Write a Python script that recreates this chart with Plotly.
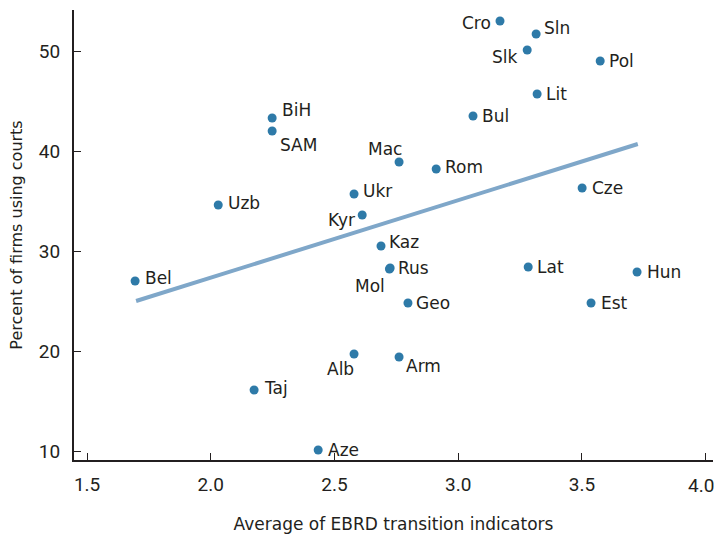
import plotly.graph_objects as go

countries = ["Bel", "Uzb", "BiH", "SAM", "Taj", "Aze", "Alb", "Ukr", "Kyr", "Kaz",
             "Rus", "Mol", "Geo", "Arm", "Mac", "Rom", "Bul", "Cro", "Sln", "Slk",
             "Pol", "Lit", "Cze", "Lat", "Hun", "Est"]
ebrd = [1.694, 2.030, 2.248, 2.248, 2.175, 2.434, 2.579, 2.579, 2.612, 2.688,
        2.725, 2.722, 2.797, 2.761, 2.761, 2.911, 3.060, 3.169, 3.315, 3.279,
        3.574, 3.319, 3.501, 3.283, 3.723, 3.537]
courts = [27.0, 34.6, 43.3, 42.0, 16.1, 10.1, 19.7, 35.7, 33.6, 30.5,
          28.3, 28.2, 24.8, 19.4, 38.9, 38.2, 43.5, 53.0, 51.7, 50.1,
          49.0, 45.7, 36.3, 28.4, 27.9, 24.8]

# label placement style: (anchor side, x gap px, y offset px)
label_style = {
    "Bel": ("left", 9, -3), "Uzb": ("left", 9, -2), "BiH": ("left", 9, -8),
    "SAM": ("left", 7, 14), "Taj": ("left", 9, -2), "Aze": ("left", 9, 0),
    "Alb": ("right", -1, 15), "Ukr": ("left", 8, -3), "Kyr": ("right", 6, 5),
    "Kaz": ("left", 7, -4), "Rus": ("left", 7, 0), "Mol": ("right", 3, 17),
    "Geo": ("left", 7, 0), "Arm": ("left", 6, 9), "Mac": ("right", -4, -13),
    "Rom": ("left", 8, -2), "Bul": ("left", 8, 0), "Cro": ("right", 8, 2),
    "Sln": ("left", 7, -6), "Slk": ("right", 8, 7), "Pol": ("left", 8, 0),
    "Lit": ("left", 8, 0), "Cze": ("left", 9, 0), "Lat": ("left", 8, 0),
    "Hun": ("left", 9, 0), "Est": ("left", 9, 0),
}

trend_x = [1.698, 3.726]
trend_y = [25.0, 40.7]

x_ticks = [1.5, 2.0, 2.5, 3.0, 3.5, 4.0]
x_ticklabels = ["1.5", "2.0", "2.5", "3.0", "3.5", "4.0"]
y_ticks = [10, 20, 30, 40, 50]

FONT = "DejaVu Sans, sans-serif"
TICKFONT = "Roboto, DejaVu Sans, sans-serif"
INK = "#231f20"

fig = go.Figure()
fig.add_trace(go.Scatter(
    x=trend_x, y=trend_y, mode="lines",
    line=dict(color="#7fa7c9", width=4), hoverinfo="skip", showlegend=False))
fig.add_trace(go.Scatter(
    x=ebrd, y=courts, mode="markers",
    marker=dict(color="#2e7aa8", size=9),
    showlegend=False, cliponaxis=False))

for name, xv, yv in zip(countries, ebrd, courts):
    side, gap, dy = label_style[name]
    fig.add_annotation(
        x=xv, y=yv, xref="x", yref="y", text=name, showarrow=False,
        xanchor=side, yanchor="middle",
        xshift=(gap - 1) if side == "left" else -(gap - 1),
        yshift=-dy,
        font=dict(family=FONT, size=17, color=INK))

# the last x tick label sits at the right edge of the frame, so it is placed as an
# annotation nudged slightly left (as in the original) instead of as a centred tick label
shown_ticktext = x_ticklabels[:-1] + [""]
fig.add_annotation(
    x=x_ticks[-1], y=0, xref="x", yref="paper", text=x_ticklabels[-1],
    showarrow=False, xanchor="center", yanchor="middle", xshift=-5, yshift=-25,
    font=dict(family=TICKFONT, size=19, color=INK))

fig.update_layout(
    width=714, height=534,
    margin=dict(l=74, r=1, t=10, b=74, autoexpand=False),
    paper_bgcolor="white", plot_bgcolor="white",
    font=dict(family=FONT, size=16, color=INK),
    xaxis=dict(range=[1.447, 4.03], tickvals=x_ticks, ticktext=shown_ticktext,
               showgrid=False, zeroline=False, showline=True, linecolor=INK,
               linewidth=2, ticks="inside", ticklen=7, tickcolor=INK, tickwidth=1,
               ticklabelstandoff=6, ticklabeloverflow="allow",
               tickfont=dict(family=TICKFONT, size=19),
               title=dict(text="Average of EBRD transition indicators",
                          font=dict(family=FONT, size=17), standoff=24)),
    yaxis=dict(range=[9.1, 54.1], tickvals=y_ticks,
               showgrid=False, zeroline=False, showline=True, linecolor=INK,
               linewidth=2, ticks="inside", ticklen=7, tickcolor=INK, tickwidth=1,
               ticklabelstandoff=8, ticklabeloverflow="allow",
               tickfont=dict(family=TICKFONT, size=19),
               title=dict(text="Percent of firms using courts",
                          font=dict(family=FONT, size=16), standoff=12)),
)

# remove the browser's default 8px body margin so the 714x534 figure fills the window
fig.write_html("out.html", config={"displayModeBar": False},
               post_script="document.body.style.margin='0';")
